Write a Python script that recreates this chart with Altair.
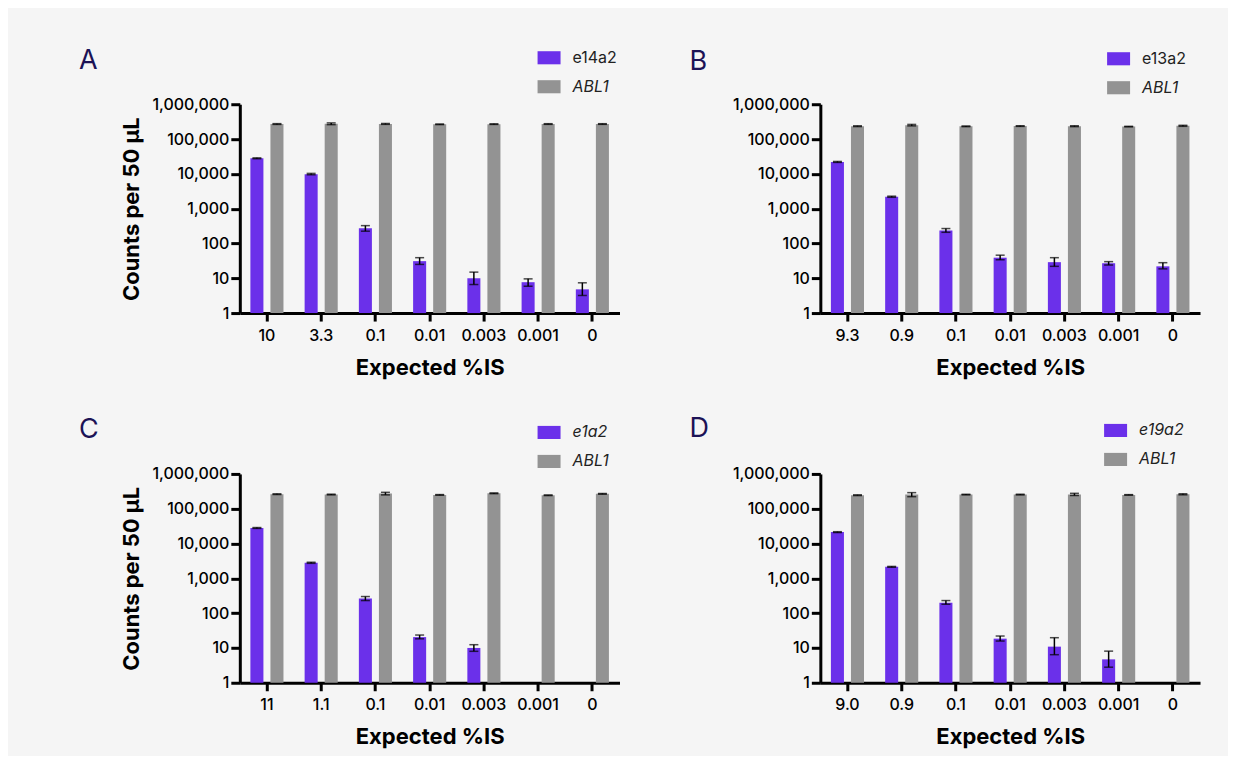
import altair as alt
import pandas as pd

FONT = "Inter"
PURPLE = "#6b30ea"
GREY = "#939393"
INK = "#1c1356"

# ---- Panel A ----
cats_a = ["10", "3.3", "0.1", "0.01", "0.003", "0.001", "0"]
tgt_a = "e14a2"
val_a = [28000, 9800, 275, 31, 10, 7.7, 4.8]
lo_a = [27200, 9400, 225, 25, 6.6, 5.9, 3.2]
hi_a = [28800, 10300, 325, 39, 15, 9.6, 7.4]
abl_a = [270000, 275000, 272000, 265000, 268000, 270000, 270000]
abl_lo_a = [263000, 259000, 264000, 260000, 263000, 264000, 264000]
abl_hi_a = [277000, 291000, 280000, 270000, 273000, 276000, 276000]

# ---- Panel B ----
cats_b = ["9.3", "0.9", "0.1", "0.01", "0.003", "0.001", "0"]
tgt_b = "e13a2"
val_b = [22000, 2200, 235, 39, 29, 27, 22]
lo_b = [21300, 2120, 209, 34, 22, 24, 18.6]
hi_b = [22700, 2280, 268, 46, 39, 30, 28]
abl_b = [234000, 250000, 232000, 236000, 234000, 228000, 240000]
abl_lo_b = [228000, 239000, 227000, 231000, 227000, 224000, 232000]
abl_hi_b = [240000, 263000, 237000, 241000, 241000, 232000, 248000]

# ---- Panel C ----
cats_c = ["11", "1.1", "0.1", "0.01", "0.003", "0.001", "0"]
tgt_c = "e1a2"
val_c = [28000, 2800, 264, 20.5, 10, None, None]
lo_c = [27200, 2700, 230, 18.3, 8, None, None]
hi_c = [28800, 2900, 300, 23.5, 12.4, None, None]
abl_c = [262000, 256000, 272000, 250000, 278000, 244000, 268000]
abl_lo_c = [256000, 250000, 250000, 245000, 271000, 239000, 262000]
abl_hi_c = [268000, 262000, 296000, 255000, 285000, 249000, 274000]

# ---- Panel D ----
cats_d = ["9.0", "0.9", "0.1", "0.01", "0.003", "0.001", "0"]
tgt_d = "e19a2"
val_d = [21300, 2140, 200, 18.5, 10.9, 4.7, None]
lo_d = [20700, 2080, 180, 15.8, 6.4, 2.8, None]
hi_d = [21900, 2200, 230, 22, 19.7, 8.1, None]
abl_d = [245000, 255000, 255000, 255000, 258000, 250000, 260000]
abl_lo_d = [239000, 222000, 250000, 249000, 240000, 246000, 251000]
abl_hi_d = [251000, 290000, 260000, 261000, 277000, 254000, 269000]

Y_TICKS = [1, 10, 100, 1000, 10000, 100000, 1000000]


def panel(letter, cats, target, tv, tlo, thi, av, alo, ahi, italic_target,
          ytitle, legend_x, legend_y, title_dx, title_dy):
    rows = []
    for i, c in enumerate(cats):
        if tv[i] is not None:
            rows.append(dict(cat=c, series=target, value=tv[i], lo=tlo[i], hi=thi[i], base=1))
        rows.append(dict(cat=c, series="ABL1", value=av[i], lo=alo[i], hi=ahi[i], base=1))
    df = pd.DataFrame(rows)

    xaxis = alt.Axis(title="Expected %IS", labelAngle=0, tickSize=8, tickWidth=3,
                     domainWidth=3, labelPadding=6, titlePadding=14)
    xscale = alt.Scale(paddingInner=0.39, paddingOuter=0.195)
    xo = alt.XOffset("series:N", sort=[target, "ABL1"],
                     scale=alt.Scale(domain=[target, "ABL1"], paddingInner=0.35))
    yscale = alt.Scale(type="log", domain=[1, 1000000])
    yaxis = alt.Axis(values=Y_TICKS, format=",", title=ytitle, tickSize=9, tickWidth=3,
                     domainWidth=3, labelPadding=2, titlePadding=8, grid=False)

    def X():
        return alt.X("cat:N", sort=cats, scale=xscale, axis=xaxis)

    if italic_target:
        lstyle = "italic"
    else:
        lstyle = {"expr": "datum.value == 'ABL1' ? 'italic' : 'normal'"}

    legend = alt.Legend(title=None, orient="none", legendX=legend_x, legendY=legend_y,
                        symbolType="M-1,-0.57H1V0.57H-1Z", symbolSize=529,
                        symbolStrokeWidth=0, symbolOpacity=1, labelFontSize=16,
                        labelFont=FONT, labelColor="#222222", labelOffset=12,
                        rowPadding=9, labelFontStyle=lstyle)

    base = alt.Chart(df)
    bars = base.mark_bar().encode(
        x=X(), xOffset=xo,
        y=alt.Y("value:Q", scale=yscale, axis=yaxis),
        y2="base:Q",
        color=alt.Color("series:N", sort=[target, "ABL1"],
                        scale=alt.Scale(domain=[target, "ABL1"], range=[PURPLE, GREY]),
                        legend=legend),
    )
    rule = base.mark_rule(color="black", strokeWidth=1.5).encode(
        x=X(), xOffset=xo,
        y=alt.Y("lo:Q", scale=yscale, axis=yaxis), y2="hi:Q")
    cap_lo = base.mark_tick(color="black", thickness=1.5, size=9).encode(
        x=X(), xOffset=xo, y=alt.Y("lo:Q", scale=yscale, axis=yaxis))
    cap_hi = base.mark_tick(color="black", thickness=1.5, size=9).encode(
        x=X(), xOffset=xo, y=alt.Y("hi:Q", scale=yscale, axis=yaxis))

    return alt.layer(bars, rule, cap_lo, cap_hi).properties(
        width=380, height=209,
        title=alt.TitleParams(text=letter, anchor="start", dx=title_dx, dy=title_dy,
                              fontSize=27, font=FONT, fontWeight=400, color=INK,
                              offset=0),
    )


pa = panel("A", cats_a, tgt_a, val_a, lo_a, hi_a, abl_a, abl_lo_a, abl_hi_a, False,
           "Counts per 50 μL", 298, -58, -42, 29)
pb = panel("B", cats_b, tgt_b, val_b, lo_b, hi_b, abl_b, abl_lo_b, abl_hi_b, False,
           None, 287, -57, -43, 29)
pc = panel("C", cats_c, tgt_c, val_c, lo_c, hi_c, abl_c, abl_lo_c, abl_hi_c, True,
           "Counts per 50 μL", 298, -53, -42, 23)
pd_ = panel("D", cats_d, tgt_d, val_d, lo_d, hi_d, abl_d, abl_lo_d, abl_hi_d, True,
            None, 284, -55, -43, 24)

RES = dict(color="independent", xOffset="independent", x="independent", y="independent")

row1 = alt.hconcat(pa, pb, spacing=69).resolve_scale(**RES).resolve_legend(color="independent")
row2 = alt.hconcat(pc, pd_, spacing=69).resolve_scale(**RES).resolve_legend(color="independent")

chart = alt.vconcat(row1, row2, spacing=37).resolve_scale(**RES).resolve_legend(
    color="independent"
).properties(
    background="#f5f5f5",
    padding={"left": 70, "top": 38, "right": 28, "bottom": 8},
).configure_view(strokeWidth=0).configure_axis(
    labelFont=FONT, titleFont=FONT, labelFontSize=16, titleFontSize=22,
    titleFontWeight="bold", labelColor="black", titleColor="black",
    domainColor="black", tickColor="black", labelFontWeight=500,
).configure_title(font=FONT)

chart.save("out.html", embed_options={"renderer": "svg", "actions": False})
